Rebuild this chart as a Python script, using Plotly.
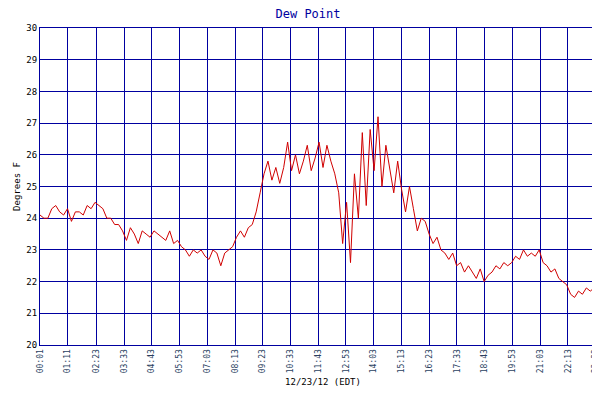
import plotly.graph_objects as go

dew_point = [24.1, 24.0, 24.0, 24.3, 24.4, 24.2, 24.1,
             24.3, 23.9, 24.2, 24.2, 24.1, 24.4,
             24.3, 24.5, 24.4, 24.3, 24.0, 24.0,
             23.8, 23.8, 23.6, 23.3, 23.7, 23.5,
             23.2, 23.6, 23.5, 23.4, 23.6, 23.5,
             23.4, 23.3, 23.6, 23.2, 23.3, 23.1,
             23.0, 22.8, 23.0, 22.9, 23.0, 22.8,
             22.7, 23.0, 22.9, 22.5, 22.9, 23.0,
             23.1, 23.4, 23.6, 23.4, 23.7, 23.8,
             24.2, 24.8, 25.4, 25.8, 25.2, 25.6,
             25.1, 25.6, 26.4, 25.5, 26.0, 25.4,
             25.8, 26.3, 25.5, 25.9, 26.4, 25.6,
             26.3, 25.8, 25.4, 24.8, 23.2, 24.5, 22.6,
             25.4, 24.0, 26.7, 24.4, 26.8, 25.5,
             27.2, 25.0, 26.3, 25.6, 24.8, 25.8,
             24.9, 24.2, 25.0, 24.3, 23.6, 24.0,
             23.9, 23.5, 23.2, 23.4, 23.0, 22.9,
             22.7, 22.9, 22.5, 22.6, 22.3, 22.5,
             22.3, 22.1, 22.4, 22.0, 22.2, 22.3,
             22.5, 22.4, 22.6, 22.5, 22.6, 22.8,
             22.7, 23.0, 22.8, 22.9, 22.8, 23.0,
             22.6, 22.5, 22.3, 22.4, 22.1, 22.0,
             21.9, 21.6, 21.5, 21.7, 21.6, 21.8,
             21.7, 21.8, 21.9, 22.1, 22.0]
start_min, end_min = 1, 1429
n = len(dew_point)
minutes = [start_min + (end_min - start_min) * i / (n - 1) for i in range(n)]

tick_labels = ["00:01", "01:11", "02:23", "03:33", "04:43", "05:53", "07:03", "08:13",
               "09:23", "10:33", "11:43", "12:53", "14:03", "15:13", "16:23", "17:33",
               "18:43", "19:53", "21:03", "22:13", "23:23", "23:49"]
tick_vals = [int(t[:2]) * 60 + int(t[3:]) for t in tick_labels]
y_ticks = list(range(20, 31))

fig = go.Figure(go.Scatter(x=minutes, y=dew_point, mode="lines", name="Dew Point",
                           line=dict(color="#d00000", width=1)))
font = dict(family="DejaVu Sans Mono", size=9, color="black")
grid = "#0000a0"
fig.update_layout(
    width=600, height=400, margin=dict(l=32, r=2, t=20, b=63, autoexpand=False),
    paper_bgcolor="white", plot_bgcolor="white",
    title=dict(text="Dew Point", x=0.5, xanchor="center", y=0.995, yanchor="top",
               font=dict(family="DejaVu Sans Mono", size=12, color="#0000a0")),
    showlegend=True,
    legend=dict(orientation="h", x=0.5, xanchor="center", y=-0.27, yanchor="top",
                font=dict(family="DejaVu Sans Mono", size=8, color="black")),
    xaxis=dict(range=[start_min, end_min], tickvals=tick_vals, ticktext=tick_labels,
               tickangle=-90, tickfont=dict(family="DejaVu Sans Mono", size=8),
               automargin=False,
               showgrid=True, gridcolor=grid, gridwidth=1,
               showline=True, linecolor=grid, mirror=True, zeroline=False,
               title=dict(text="12/23/12 (EDT)", font=font, standoff=6)),
    yaxis=dict(range=[20, 30], tickvals=y_ticks, tickfont=font, automargin=False,
               showgrid=True, gridcolor=grid, gridwidth=1,
               showline=True, linecolor=grid, mirror=True, zeroline=False,
               title=dict(text="Degrees F", font=font, standoff=4)),
)
fig.write_html("out.html")
